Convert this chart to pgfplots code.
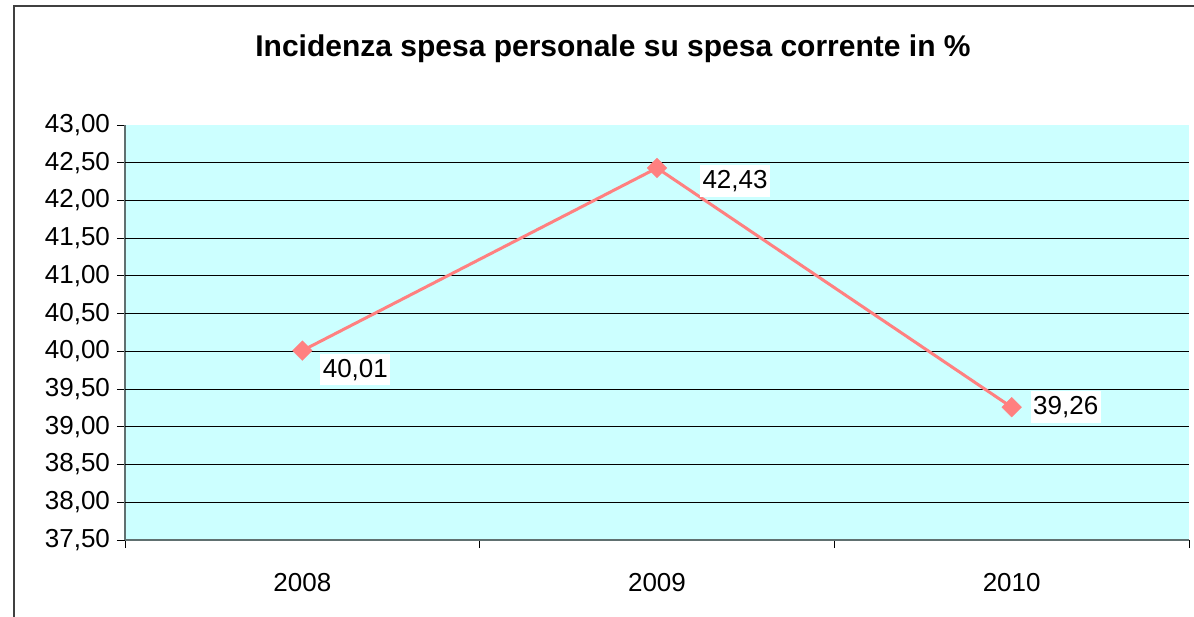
\documentclass[border=0pt]{standalone}
\usepackage{fontspec}
\setmainfont{Liberation Sans}
\usepackage{pgfplots}
\pgfplotsset{compat=1.18}
\usepackage{pgfplotstable}
\definecolor{cyanbg}{RGB}{204,255,255}
\definecolor{linered}{RGB}{255,128,128}
\definecolor{axisgray}{RGB}{96,112,112}
\definecolor{framegray}{RGB}{64,64,64}

% x, value, label shift (bp)
\pgfplotstableread{
x  y      dx    dy
1  40.01  9     -9.5
2  42.43  21.5  -6.5
3  39.26  9.5   0
}\spesa

\begin{document}
\begin{tikzpicture}
% 1 px of the reference = 0.5bp
\useasboundingbox (-62.5bp,-38.5bp) rectangle (534.5bp,270bp);
\draw[framegray, line width=1bp] (-55.5bp,-40bp) -- (-55.5bp,267bp) -- (536bp,267bp);
\node[font=\fontsize{15bp}{18bp}\selectfont\bfseries] at (244bp,245.5bp)
  {Incidenza spesa personale su spesa corrente in \%};
\begin{axis}[
  at={(0,0)}, anchor=south west,
  scale only axis, width=532bp, height=207.5bp,
  xmin=0.5, xmax=3.5, ymin=37.5, ymax=43,
  axis background/.style={fill=cyanbg},
  axis lines*=left,
  axis line style={draw=axisgray, line width=0.9bp, -},
  tick align=outside,
  xtick={1,2,3}, xticklabels={2008,2009,2010},
  major x tick style={draw=none},
  minor xtick={0.5,1.5,2.5,3.5},
  minor x tick style={draw=black, line width=0.5bp},
  minor tick length=4bp,
  ytick={37.5,38,...,43},
  ytick style={draw=black, line width=0.5bp},
  major tick length=4bp,
  extra y ticks={38,38.5,...,42.5},
  extra y tick labels={},
  extra y tick style={grid=major, major tick length=0pt},
  grid style={black, line width=0.5bp},
  ticklabel style={font=\fontsize{13bp}{15bp}\selectfont},
  /pgf/number format/assume math mode=true,
  yticklabel style={/pgf/number format/.cd, fixed, fixed zerofill, precision=2, use comma},
  xticklabel style={yshift=-9bp},
  clip=false,
]
\addplot[linered, line width=1.5bp, mark=square*,
  mark options={rotate=45, fill=linered, draw=linered, line width=0.1bp}, mark size=3.5bp,
  visualization depends on={\thisrow{dx} \as \dx},
  visualization depends on={\thisrow{dy} \as \dy},
  nodes near coords={\pgfmathprintnumber[fixed, fixed zerofill, precision=2, use comma, assume math mode=true]{\pgfplotspointmeta}},
  every node near coord/.append style={anchor=west, xshift=\dx bp, yshift=\dy bp,
    fill=white, text=black, inner xsep=1.2bp, inner ysep=2.5bp,
    font=\fontsize{13bp}{15bp}\selectfont},
] table[x=x, y=y] {\spesa};
\end{axis}
\end{tikzpicture}
\end{document}
